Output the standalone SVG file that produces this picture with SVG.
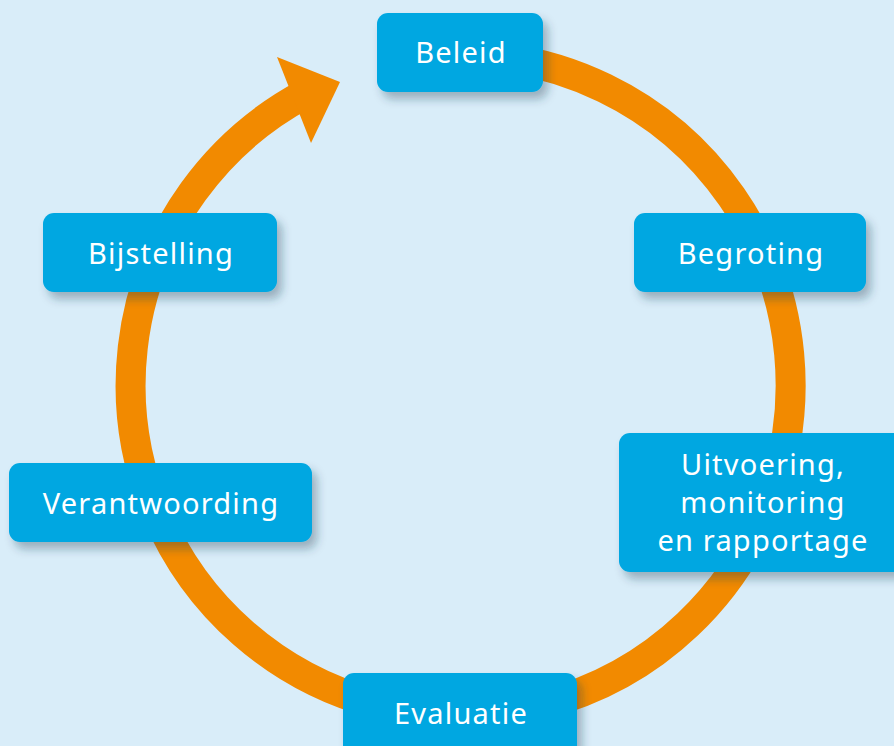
<svg xmlns="http://www.w3.org/2000/svg" width="894" height="746" viewBox="0 0 894 746">
<defs>
<filter id="sh" x="-20%" y="-30%" width="140%" height="160%">
<feDropShadow dx="5" dy="7" stdDeviation="5" flood-color="#1a3a50" flood-opacity="0.35"/>
</filter>
<style>
.box{fill:#00a7e1;filter:url(#sh)}
.t{font-family:"Noto Sans","DejaVu Sans",sans-serif;font-size:29px;letter-spacing:1.2px;fill:#fff;text-anchor:middle}
.arc{fill:none;stroke:#f28a00;stroke-width:30}
</style>
</defs>
<rect width="894" height="746" fill="#d9edf9"/>
<g id="connectors">
<path class="arc" d="M 460 55 A 330 330 0 1 1 305 94"/>
<polygon points="277,57 340,82 311,143" fill="#f28a00"/>
</g>
<g id="beleid"><rect class="box" x="377" y="13" width="166" height="79" rx="11"/><text class="t" x="461" y="63">Beleid</text></g>
<g id="begroting"><rect class="box" x="634" y="213" width="232" height="79" rx="11"/><text class="t" x="751" y="264">Begroting</text></g>
<g id="uitvoering"><rect class="box" x="619" y="433" width="290" height="139" rx="11"/><text class="t" x="763" y="475">Uitvoering,</text><text class="t" x="763" y="513">monitoring</text><text class="t" x="763" y="551">en rapportage</text></g>
<g id="evaluatie"><rect class="box" x="343" y="673" width="234" height="90" rx="11"/><text class="t" x="461" y="724">Evaluatie</text></g>
<g id="verantwoording"><rect class="box" x="9" y="463" width="303" height="79" rx="11"/><text class="t" x="161" y="514">Verantwoording</text></g>
<g id="bijstelling"><rect class="box" x="43" y="213" width="234" height="79" rx="11"/><text class="t" x="161" y="264">Bijstelling</text></g>
</svg>
